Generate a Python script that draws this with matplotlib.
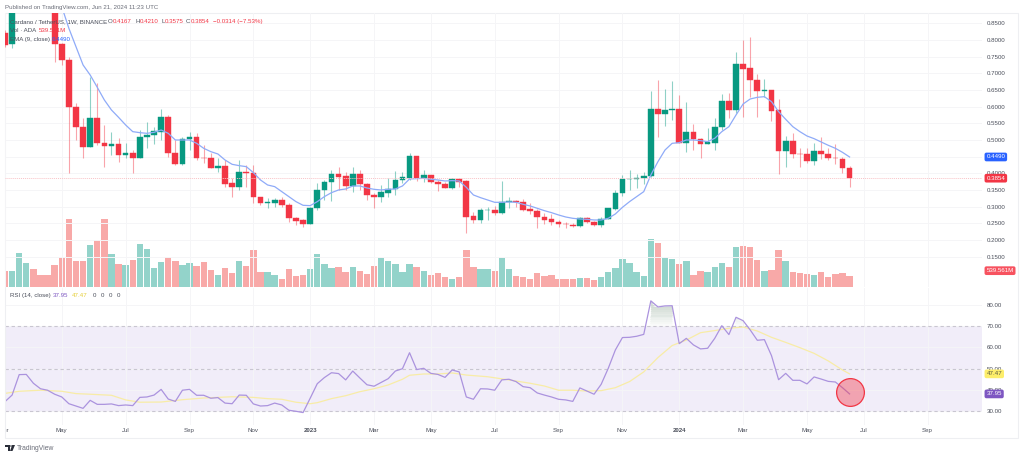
import numpy as np
import matplotlib
matplotlib.use("Agg")
import matplotlib.pyplot as plt
from matplotlib.patches import Rectangle, Polygon, Circle

plt.rcParams['font.family'] = ['Liberation Sans', 'DejaVu Sans']

# weekly ADA/USDT candles (the ones at the very left run off the top)
opens = [.82,.787,.90,.93,.97,.96,.94,.90,.788,.739,
         .598,.54,.48,.567,.49,.483,.488,.455,.462,.446,
         .51,.515,.525,.568,.462,.427,.502,.508,.447,.445,
         .417,.422,.37,.358,.404,.402,.328,.31,.312,.32,
         .305,.265,.26,.248,.295,.35,.375,.397,.392,.362,
         .398,.368,.335,.328,.342,.354,.38,.387,.451,.387,
         .394,.374,.369,.357,.382,.377,.271,.26,.29,.289,
         .282,.313,.317,.315,.292,.288,.269,.262,.255,.249,
         .246,.241,.265,.255,.246,.263,.293,.34,.382,.384,
         .387,.392,.593,.578,.591,.593,.492,.525,.502,.489,
         .49,.54,.618,.589,.728,.715,.68,.646,.649,.589,
         .466,.497,.459,.457,.436,.466,.457,.447,.443,.4167]
closes = [.785,.90,.93,.97,.96,.94,.90,.787,.739,.598,
          .54,.48,.566,.49,.483,.488,.455,.462,.446,.51,
          .516,.526,.568,.462,.427,.502,.508,.446,.446,.417,
          .422,.368,.358,.405,.40,.328,.31,.314,.32,.305,
          .265,.258,.248,.296,.35,.375,.397,.39,.362,.398,
          .367,.334,.328,.343,.354,.38,.388,.451,.385,.394,
          .373,.369,.357,.382,.375,.27,.26,.291,.291,.282,
          .313,.317,.314,.29,.288,.269,.261,.255,.248,.247,
          .241,.265,.255,.245,.263,.295,.341,.382,.383,.387,
          .393,.593,.578,.591,.593,.492,.525,.502,.489,.494,
          .54,.618,.589,.728,.714,.68,.646,.649,.588,.466,
          .497,.458,.457,.436,.466,.457,.446,.445,.415,.3854]
highs = [.83,.90,.94,.98,.98,.97,.95,.92,.79,.75,
         .612,.565,.69,.67,.545,.525,.505,.49,.47,.53,
         .555,.54,.593,.575,.50,.51,.523,.52,.485,.46,
         .445,.44,.385,.44,.425,.425,.33,.325,.327,.328,
         .31,.27,.263,.298,.37,.38,.41,.42,.405,.42,
         .41,.37,.34,.365,.385,.408,.405,.46,.452,.41,
         .395,.38,.375,.385,.385,.38,.285,.295,.30,.303,
         .377,.33,.32,.322,.312,.292,.282,.278,.26,.255,
         .25,.268,.27,.258,.268,.297,.35,.395,.41,.397,
         .403,.646,.68,.652,.678,.635,.615,.548,.505,.535,
         .565,.637,.64,.763,.80,.81,.697,.682,.65,.623,
         .513,.52,.475,.475,.49,.51,.475,.488,.45,.421]
lows = [.78,.775,.89,.92,.95,.93,.89,.735,.725,.402,
        .50,.445,.478,.485,.42,.455,.435,.445,.40,.445,
        .475,.488,.50,.45,.425,.425,.47,.44,.43,.415,
        .405,.36,.33,.35,.36,.31,.305,.295,.30,.30,
        .255,.245,.24,.248,.29,.32,.318,.35,.35,.345,
        .35,.32,.297,.315,.328,.335,.37,.38,.378,.375,
        .37,.347,.355,.352,.36,.22,.25,.25,.26,.275,
        .278,.295,.30,.288,.277,.237,.247,.245,.24,.235,
        .238,.238,.25,.242,.24,.262,.29,.333,.35,.355,
        .368,.39,.51,.543,.56,.49,.463,.47,.445,.487,
        .47,.53,.565,.58,.57,.63,.57,.63,.557,.398,
        .42,.445,.42,.432,.425,.443,.44,.427,.40,.3575]

# volume in millions
volume = [768,800,1666,1176,898,588,588,1094,1437,3331,
          1274,1257,2058,2303,3348,1600,1143,1078,1323,2123,
          1845,931,1208,1470,1290,1078,1176,1045,1241,833,
          588,947,702,1290,1029,1796,719,719,588,408,
          882,539,588,882,1617,1127,947,980,735,963,
          784,621,1045,1421,1290,1143,751,1110,980,784,
          572,702,474,408,474,1796,963,898,882,784,
          1437,882,523,474,408,686,523,572,392,408,
          392,425,425,359,474,735,931,1372,1192,735,
          555,2352,2156,1404,1372,1127,1290,572,768,719,
          996,1176,963,1976,2025,1943,1306,800,849,1796,
          1290,751,702,621,588,735,506,637,670,539.56]

# EMA 9 starts off the top of the pane, first value is week 8
ema_start = 8
ema = [.90,.835,.78,.725,.695,.658,.62,.59,.568,.545,.525,.522,.52,.523,.53,.52,
       .50,.50,.50,.49,.475,.465,.458,.44,.427,.423,.42,.402,.38,.365,.36,.345,
       .33,.315,.304,.303,.315,.33,.342,.35,.353,.362,.362,.356,.352,.35,.352,.353,
       .362,.383,.384,.385,.382,.38,.377,.378,.377,.358,.335,.327,.32,.313,.313,.314,
       .313,.307,.302,.295,.288,.282,.275,.269,.265,.263,.262,.26,.26,.265,.278,.298,
       .315,.33,.345,.395,.435,.47,.49,.492,.50,.50,.498,.495,.505,.525,.54,.575,
       .608,.623,.628,.63,.615,.585,.562,.54,.525,.512,.504,.494,.484,.475,.463,.449]

rsi = [34.3,37.4,47.1,47.2,43.0,40.4,39.7,37.8,36.5,33.3,
       32.2,31.1,34.9,33.0,33.0,33.2,32.4,32.7,32.4,36.3,
       36.5,37.4,40.1,35.5,34.4,39.7,40.1,37.3,37.3,35.9,
       36.2,33.6,33.3,37.4,37.3,33.2,32.2,32.4,33.6,32.7,
       30.2,29.7,29.1,35.9,42.8,45.7,48.0,47.6,44.6,48.8,
       45.5,42.3,41.6,43.4,45.2,48.8,49.9,57.5,49.5,50.1,
       47.7,47.2,45.8,49.3,48.4,36.5,35.4,40.4,40.3,39.7,
       44.6,44.9,43.8,41.4,40.9,38.4,37.4,36.5,35.4,35.1,
       34.4,40.8,39.3,37.8,42.5,50.1,58.8,64.7,64.8,65.3,
       66.2,82.1,79.2,79.7,79.8,61.8,64.3,61.2,59.3,59.6,
       64.3,70.3,66.1,74.3,72.7,68.3,63.4,63.7,56.1,44.7,
       47.7,44.4,44.4,42.7,46.0,45.0,43.9,43.6,40.9,37.95]

rsi_ma_weeks = [0,2,5,8,10,12,15,17,19,22,25,28,32,35,37,39,41,43,44,46,48,50,52,54,56,57,
                59,61,63,65,68,71,74,76,78,80,82,84,86,88,90,92,94,96,98,100,102,104,106,
                108,110,112,114,116,118,119]
rsi_ma = [38.2,39.2,39.7,39.2,38.1,37.8,37.3,35.1,34.0,34.1,35.2,36.0,36.6,36.3,35.7,35.4,34.0,33.3,33.8,
          35.7,37.1,39.0,40.4,42.2,44.9,46.8,47.4,47.4,47.9,46.9,46.1,44.6,43.0,41.7,39.7,39.7,39.3,39.5,
          40.9,43.8,48.4,55.2,60.9,63.5,67.0,68.0,69.1,69.7,67.8,64.8,62.4,59.9,57.2,53.6,49.3,47.47]

price_ticks = [.85,.80,.75,.70,.65,.60,.55,.50,.45,.40,.35,.30,.25,.20,.15]
rsi_ticks = [80,70,60,50,40,30]
time_ticks = [0,8,17,26,35,43,52,60,69,78,87,95,104,113,121,130]
time_labels = ['Apr','May','Jul','Sep','Nov','2023','Mar','May','Jul','Sep','Nov','2024','Mar','May','Jul','Sep']

GREEN = '#089981'
RED = '#f23645'
TEXT = '#4a4e5a'
FS = 4.45

W, H = 1024, 457
weeks = np.arange(len(closes))
o, c, h, l = map(np.array, (opens, closes, highs, lows))
up = c >= o
rsi = np.array(rsi)


def pane(x0, y0, x1, y1):
    # pixel box, y measured from the top
    return fig.add_axes([x0 / W, 1 - y1 / H, (x1 - x0) / W, (y1 - y0) / H])


def ftext(x, y, s, color=TEXT, size=FS, **kw):
    fig.text(x / W, 1 - y / H, s, color=color, fontsize=size, va='center', **kw)


def axis_tag(ax, value, s, bg, fg='white'):
    ax.text(1.0045, value, s, transform=ax.get_yaxis_transform(), color=fg, fontsize=FS, va='center',
            ha='left', zorder=10, clip_on=False,
            bbox=dict(boxstyle='round,pad=0.3', fc=bg, ec='none'))


fig = plt.figure(figsize=(W / 100, H / 100), dpi=100)

# outer frame of the chart
fig.add_artist(Rectangle((5 / W, 1 - 438 / H), 1013 / W, 425 / H, transform=fig.transFigure,
                         fc='none', ec='#eeeff2', lw=0.8))

xlim = (0.197, 137.66)

# volume sits at the bottom of the price pane
ax = pane(5, 13, 982, 287)
axv = ax.twinx()
axv.bar(weeks, volume, width=0.9, color=['#93d3ca' if u else '#f8a9a8' for u in up])
axv.set_ylim(0, 13426)
axv.set_yticks([])
for s in axv.spines.values():
    s.set_visible(False)

ax.set_zorder(2)
ax.patch.set_visible(False)
ax.vlines(weeks, l, h, color=[GREEN if u else RED for u in up], lw=0.8, alpha=0.45)
ax.bar(weeks, np.abs(c - o), bottom=np.minimum(o, c), width=0.8,
       color=[GREEN if u else RED for u in up], lw=0.3, edgecolor=[GREEN if u else RED for u in up])
ax.plot(np.arange(len(ema)) + ema_start, ema, color='#8fabf8', lw=0.9)
ax.axhline(closes[-1], color='#f9c3c7', lw=0.7, ls=(0, (1, 1)))
ax.set_xlim(xlim)
ax.set_ylim(0.0589, 0.881)
ax.yaxis.tick_right()
ax.set_yticks(price_ticks)
ax.set_yticklabels(['%.4f' % p for p in price_ticks], color=TEXT, fontsize=FS)
ax.set_xticks(time_ticks)
ax.set_xticklabels([])
ax.tick_params(length=0, pad=3.2)
ax.grid(color='#f5f5f7', lw=0.7)
ax.set_axisbelow(True)
for s in ax.spines.values():
    s.set_visible(False)

axis_tag(ax, ema[-1], '%.4f' % ema[-1], '#2962ff')
axis_tag(ax, closes[-1], '%.4f' % closes[-1], RED)
ax.text(1.0045, volume[-1] + 260, '539.561M', transform=axv.get_yaxis_transform(), color='white', fontsize=FS,
        va='center', zorder=10, bbox=dict(boxstyle='round,pad=0.3', fc='#f7525f', ec='none'))

# RSI pane
ar = pane(5, 288, 982, 425)
ar.axhspan(30, 70, color='#f1edf9', lw=0, zorder=0)
for lev in [30, 50, 70]:
    ar.axhline(lev, color='#c9c6d1', lw=0.8, ls=(0, (3, 2.5)), zorder=1)
# overbought fill gets stronger upward
for lev in np.arange(70, 82, 1.0):
    ar.fill_between(weeks, lev, np.minimum(rsi, lev + 1), where=rsi > lev, interpolate=True,
                    color='#7f9c86', alpha=0.03 + (lev - 70) * 0.035, lw=0, zorder=1)
ar.plot(rsi_ma_weeks, rsi_ma, color='#f8eca6', lw=0.9, zorder=2)
ar.plot(weeks, rsi, color='#ab93de', lw=0.9, zorder=3)
ar.scatter([119], [38.9], s=400, facecolor='#f2364566', edgecolor='#f23645', lw=0.9, zorder=4)
ar.set_xlim(xlim)
ar.set_ylim(23.2, 88.2)
ar.yaxis.tick_right()
ar.set_yticks(rsi_ticks)
ar.set_yticklabels(['%.2f' % r for r in rsi_ticks], color=TEXT, fontsize=FS)
ar.set_xticks(time_ticks)
ar.set_xticklabels(time_labels, color=TEXT, fontsize=FS)
for t, lab in zip(ar.get_xticklabels(), time_labels):
    if lab in ('2023', '2024'):
        t.set_fontweight('bold')
# the first month label is cut by the frame
first = ar.get_xticklabels()[0]
first.set_clip_box(matplotlib.transforms.Bbox([[5, 0], [40, 457]]))
first.set_clip_on(True)
ar.tick_params(axis='x', length=0, pad=2.5)
ar.tick_params(axis='y', length=0, pad=3.2)
ar.grid(color='#f5f5f7', lw=0.7)
ar.set_axisbelow(True)
for s in ar.spines.values():
    s.set_visible(False)
axis_tag(ar, rsi_ma[-1], '%.2f' % rsi_ma[-1], '#fdee6b', '#5a5a40')
axis_tag(ar, rsi[-1], '%.2f' % rsi[-1], '#7e57c2')

# header and legends
ftext(5, 8, 'Published on TradingView.com, Jun 21, 2024 11:23 UTC', color='#6a6d78', size=4.4)
ftext(9.5, 21.5, 'Cardano / TetherUS, 1W, BINANCE', size=4.4)
for x, s in [(108, 'O'), (135, 'H'), (161, 'L'), (186, 'C')]:
    ftext(x, 21.5, s, size=4.4)
for x, s in [(112.8, '0.4167'), (139.6, '0.4210'), (164.5, '0.3575'), (190.6, '0.3854'), (213, '\u22120.0314 (\u22127.53%)')]:
    ftext(x, 21.5, s, color=RED, size=4.4)
ftext(9.5, 30.5, 'Vol \u00b7 ADA', size=4.4)
ftext(39, 30.5, '539.561M', color=RED, size=4.4)
ftext(9.5, 39.5, 'EMA (9, close)', size=4.4)
ftext(52, 39.5, '0.4490', color='#2962ff', size=4.4)
ftext(9.5, 295.5, 'RSI (14, close)', size=4.4)
ftext(53, 295.5, '37.95', color='#7e57c2', size=4.4)
ftext(72, 295.5, '47.47', color='#e6cf3a', size=4.4)
for x in [93, 101, 109, 117]:
    ftext(x, 295.5, '0', size=4.4)

# TradingView logo
logo = '#2a2e39'
def fp(pts):
    return [(x / W, 1 - y / H) for x, y in pts]
fig.add_artist(Polygon(fp([(5, 445), (9.5, 445), (9.5, 451), (7.5, 451), (7.5, 447.2), (5, 447.2)]),
                       transform=fig.transFigure, fc=logo, ec='none'))
fig.add_artist(Circle((11 / W, 1 - 446 / H), 0.0012, transform=fig.transFigure, fc=logo, ec='none'))
fig.add_artist(Polygon(fp([(12.2, 445), (15, 445), (12.5, 451), (10, 451)]),
                       transform=fig.transFigure, fc=logo, ec='none'))
ftext(17, 448, 'TradingView', color='#6a6d78', size=4.9)

fig.savefig('out.png', dpi=100)
